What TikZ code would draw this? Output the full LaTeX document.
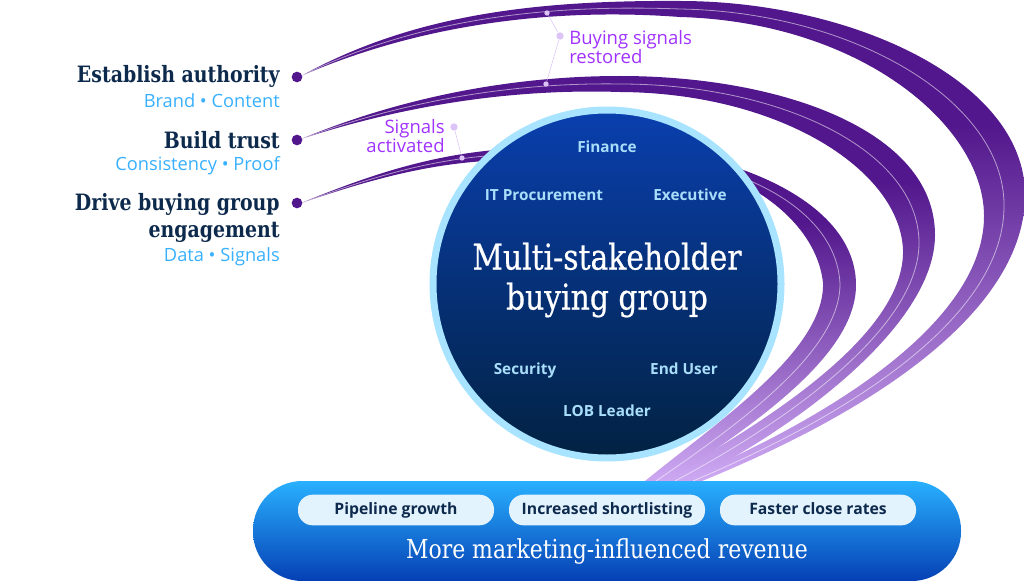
\documentclass[tikz,border=0pt]{standalone}
\usepackage{fontspec}
\setmainfont{Open Sans}
\newfontfamily\slabfont[FakeStretch=.84]{DejaVu Serif}
\newfontfamily\slabtitle[FakeStretch=.84,FakeBold=.5]{DejaVu Serif}
\definecolor{ribbondark}{HTML}{52178C}
\definecolor{ribbonlight}{HTML}{CDA8F2}
\definecolor{ringblue}{HTML}{A8E4FF}
\definecolor{inkblue}{HTML}{0D2A4D}
\definecolor{skyblue}{HTML}{38B0FF}
\definecolor{paleblue}{HTML}{A9DEFA}
\definecolor{callpurple}{HTML}{A033FF}
\definecolor{calllilac}{HTML}{DCC4F7}
\definecolor{grouptop}{HTML}{0A3FAE}
\definecolor{groupmid}{HTML}{03308A}
\definecolor{grouplow}{HTML}{022242}
\definecolor{bartop}{HTML}{29B0FF}
\definecolor{barmid}{HTML}{1C88E4}
\definecolor{barlow}{HTML}{0540B4}
\definecolor{pillfill}{HTML}{E3F3FE}
\pgfdeclareverticalshading{ribbonfade}{100bp}{color(0bp)=(ribbonlight); color(25bp)=(ribbonlight); color(62bp)=(ribbondark); color(100bp)=(ribbondark)}
\tikzset{
  goal/.style={anchor=east,inner sep=0,align=right,text=inkblue,font=\slabfont\bfseries\fontsize{16.9}{20}\selectfont},
  goalsub/.style={anchor=east,inner sep=0,text=skyblue,font=\fontsize{13.7}{15}\selectfont},
  role/.style={text=paleblue,text height=8pt,text depth=2.5pt,inner sep=0,font=\bfseries\fontsize{11.5}{12}\selectfont},
  pill/.style={rounded corners=11pt,fill=pillfill,minimum width=147pt,minimum height=23pt,inner sep=0,text height=8.5pt,text depth=2.5pt,text=inkblue,font=\bfseries\fontsize{11.8}{12}\selectfont},
  callout/.style={text=callpurple,inner sep=0,font=\fontsize{13.9}{14.2}\selectfont},
  startdot/.style={circle,fill=ribbondark,inner sep=0,minimum size=8pt},
  hubdot/.style={circle,fill=calllilac,inner sep=0,minimum size=5.5pt},
  tipdot/.style={circle,fill=calllilac,inner sep=0,minimum size=4pt},
  thread/.style={white,opacity=.55,line width=.6pt}
}
\begin{document}
\begin{tikzpicture}[x=.75pt,y=-.75pt]
  \useasboundingbox (0,0) rectangle (1024,581);
  % ribbons
  \shade[shading=ribbonfade] (301,76) .. controls (410,16) and (530,0) .. (680,1) .. controls (850,1) and (1025,80) .. (1025,195) .. controls (1025,300) and (900,400) .. (702,481) -- (680,481) .. controls (860,405) and (985,310) .. (984,215) .. controls (983,125) and (860,22) .. (680,17) .. controls (560,8) and (425,22) .. (301,76) -- cycle;
  \shade[shading=ribbonfade] (301,139) .. controls (390,102) and (500,76) .. (620,76) .. controls (780,76) and (935,130) .. (935,235) .. controls (935,320) and (810,420) .. (690,481) -- (660,481) .. controls (780,415) and (905,330) .. (903,250) .. controls (900,170) and (780,93) .. (620,92) .. controls (500,88) and (390,110) .. (301,139) -- cycle;
  \shade[shading=ribbonfade] (301,203) .. controls (370,175) and (440,150) .. (530,148) .. controls (680,130) and (856,185) .. (856,285) .. controls (856,350) and (770,415) .. (668,481) -- (645,481) .. controls (720,420) and (825,350) .. (823,283) .. controls (815,205) and (700,130) .. (530,160) .. controls (440,158) and (370,180) .. (301,203) -- cycle;
  \draw[thread] (301,76) .. controls (417,19) and (545,4) .. (680,9) .. controls (855,12) and (1004,102) .. (1004,205) .. controls (1005,305) and (880,402) .. (693,481);
  \draw[thread] (301,139) .. controls (390,106) and (500,82) .. (620,84) .. controls (780,84) and (918,150) .. (919,242) .. controls (920,325) and (795,417) .. (675,481);
  \draw[thread] (301,203) .. controls (370,178) and (440,154) .. (530,154) .. controls (700,138) and (836,195) .. (840,284) .. controls (840,350) and (745,420) .. (656,481);
  % start dots and goals
  \node[startdot] (dotauthority) at (297,77) {};
  \node[startdot] (dottrust) at (297,140) {};
  \node[startdot] (dotdrive) at (297,203) {};
  \node[goal] (authority) at (280,76) {Establish authority};
  \node[goalsub] (brand) at (280,101) {Brand • Content};
  \node[goal] (trust) at (280,140) {Build trust};
  \node[goalsub] (proof) at (280,165.5) {Consistency • Proof};
  \node[goal] (drive) at (280,218) {Drive buying group\\engagement};
  \node[goalsub] (data) at (280,256.5) {Data • Signals};
  % callouts
  \node[tipdot] (restoredtop) at (547,13) {};
  \node[hubdot] (restoredhub) at (560,36) {};
  \node[tipdot] (restoredlow) at (546,84) {};
  \draw[calllilac] (restoredtop) -- (restoredhub) -- (restoredlow);
  \node[callout,anchor=west,align=left] (restored) at (569,47) {Buying signals\\restored};
  \node[tipdot] (activetip) at (462,158) {};
  \node[hubdot] (activehub) at (454,127) {};
  \draw[calllilac] (activehub) -- (activetip);
  \node[callout,anchor=east,align=right] (activated) at (445,136.5) {Signals\\activated};
  % buying group
  \node[circle,draw=ringblue,line width=5.25pt,minimum size=261pt,inner sep=0,top color=grouptop,middle color=groupmid,bottom color=grouplow] (group) at (607,284) {};
  \node[text=white,align=center,font=\slabtitle\fontsize{26.6}{30}\selectfont] (grouptitle) at (607,280) {Multi-stakeholder\\buying group};
  \node[role] (finance) at (607,149) {Finance};
  \node[role] (procurement) at (544,197) {IT Procurement};
  \node[role] (executive) at (690,197) {Executive};
  \node[role] (security) at (525,371) {Security};
  \node[role] (enduser) at (684,371) {End User};
  \node[role] (lobleader) at (607,413) {LOB Leader};
  % revenue bar
  \node[rounded corners=37pt,minimum width=531pt,minimum height=75pt,inner sep=0,top color=bartop,middle color=barmid,bottom color=barlow] (revenue) at (607,531) {};
  \node[pill] (pipeline) at (396,510) {Pipeline growth};
  \node[pill] (shortlist) at (607,510) {Increased shortlisting};
  \node[pill] (closerates) at (818,510) {Faster close rates};
  \node[text=white,font=\slabfont\fontsize{19.6}{20}\selectfont] (revenuetext) at (607,551) {More marketing-influenced revenue};
\end{tikzpicture}
\end{document}
